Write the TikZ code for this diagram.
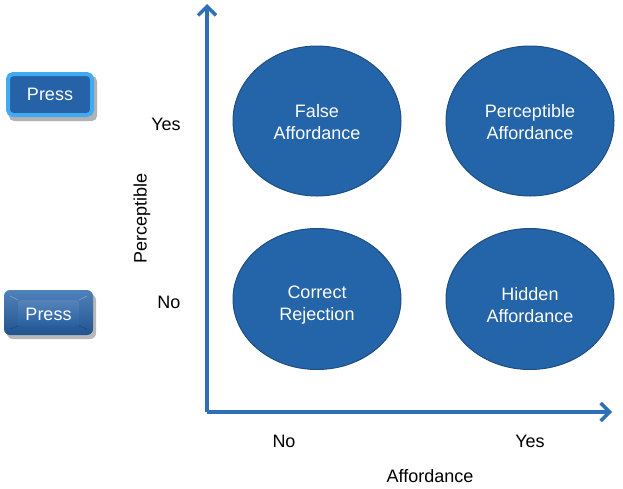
\documentclass[tikz,border=0pt]{standalone}
\usepackage{fontspec}
\setmainfont{Liberation Sans}
\usetikzlibrary{arrows.meta,shadows,shapes.geometric}
\definecolor{ellfill}{RGB}{36,100,168}
\definecolor{elledge}{RGB}{30,78,130}
\definecolor{axiscol}{RGB}{46,112,182}
\definecolor{btnlight}{RGB}{66,170,240}
\definecolor{btndark}{RGB}{38,98,168}
\tikzset{
  quad/.style={ellipse, fill=ellfill, draw=elledge, line width=1pt,
    minimum width=168pt, inner sep=0pt},
  qtext/.style={align=center, text=white, inner sep=0pt, font=\fontsize{18}{21.5}\selectfont},
  lbl/.style={font=\fontsize{18}{21}\selectfont, text=black},
  axis/.style={draw=axiscol, line width=3.5pt,
    -{Straight Barb[length=9pt,width=18pt,line width=3.5pt]}},
  btntext/.style={text=white, font=\fontsize{18}{21}\selectfont}
}
\begin{document}
\begin{tikzpicture}[x=1pt,y=-1pt]
\useasboundingbox (0,0) rectangle (623,488);
% ellipses
\node[quad, minimum height=150pt] (fa) at (317,121) {};
\node[quad, minimum height=150pt] (pa) at (530,121) {};
\node[quad, minimum height=141pt] (cr) at (317,299) {};
\node[quad, minimum height=141pt] (ha) at (530,299) {};
\node[qtext] (fat) at ([yshift=-1pt]fa.center) {False\\Affordance};
\node[qtext] (pat) at ([yshift=-1pt]pa.center) {Perceptible\\Affordance};
\node[qtext] (crt) at ([yshift=-6pt]cr.center) {Correct\\Rejection};
\node[qtext] (hat) at ([yshift=-6pt]ha.center) {Hidden\\Affordance};
% axes
\coordinate (o) at (207,412);
\coordinate (ytop) at (207,4);
\coordinate (xend) at (612,412);
\draw[axis] (o) -- (ytop);
\draw[axis] (o) -- (xend);
% labels
\node[lbl] (yyes) at (166,124) {Yes};
\node[lbl] (yno) at (169,302) {No};
\node[lbl, rotate=90] (ylab) at (142,218) {Perceptible};
\node[lbl] (xno) at (284,441) {No};
\node[lbl] (xyes) at (530,441) {Yes};
\node[lbl] (xlab) at (430,476) {Affordance};
% top button
\fill[black!30, rounded corners=5pt] (9,76) rectangle (97,121);
\node[draw=btnlight, line width=4pt, fill=btndark, rounded corners=5pt,
  minimum width=84pt, minimum height=41pt, inner sep=0pt, btntext] (b1) at (50,94.5) {Press};
% bottom button
\fill[black!28, rounded corners=6pt] (7,294) rectangle (96,339);
\shade[top color=btndark!80!white, bottom color=btndark!85!black, rounded corners=6pt]
  (4,290) rectangle (93,335);
\shade[top color=btndark!75!white, bottom color=btndark, rounded corners=3pt, opacity=0.7]
  (18,300) rectangle (79,326);
\draw[white!60!btndark, line width=0.6pt, opacity=0.6] (10,296) -- (18,300);
\draw[white!60!btndark, line width=0.6pt, opacity=0.6] (87,296) -- (79,300);
\draw[black!40!btndark, line width=0.6pt, opacity=0.6] (10,329) -- (18,326);
\draw[black!40!btndark, line width=0.6pt, opacity=0.6] (87,329) -- (79,326);
\node[btntext] (b2) at (48.5,314) {Press};
\end{tikzpicture}
\end{document}
